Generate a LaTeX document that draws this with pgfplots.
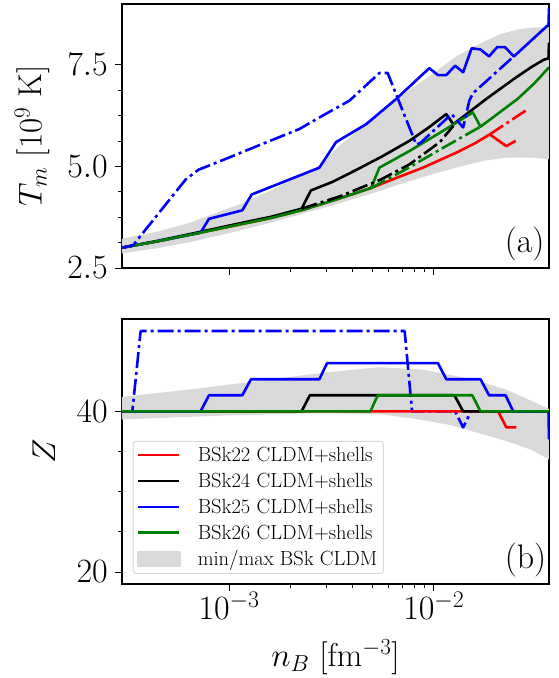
\RequirePackage{fix-cm}
\documentclass[border=0pt]{standalone}
\usepackage{pgfplots}
\pgfplotsset{compat=1.18}
\definecolor{bandgray}{RGB}{217,217,217}
\definecolor{mplgreen}{rgb}{0,0.5,0}
\tikzset{dd/.style={dash pattern=on 16pt off 4pt on 3pt off 4pt}}
\begin{document}
\begin{tikzpicture}
\path[use as bounding box] (0,0) rectangle (558pt,678pt);
% ---------------- top panel ----------------
\begin{axis}[scale only axis, width=427pt, xmode=log, xmin=3e-4, xmax=3.65e-2,
  xtick={1e-3,1e-2}, tick align=outside, tick pos=left,
  major tick length=7pt, minor tick length=4pt,
  every tick/.style={black, line width=0.9pt},
  axis line style={line width=1.1pt},
  ticklabel style={font=\fontsize{34}{40}\selectfont},
  every axis plot post/.append style={line width=2.6pt, line join=round},
  at={(122pt,410pt)}, anchor=south west, height=264pt,
  ymin=2.5, ymax=9.0, ytick={2.5,5,7.5}, minor y tick num=3,
  yticklabel style={inner sep=7pt, /pgf/number format/.cd, fixed, fixed zerofill, precision=1},
  xticklabels={},
  ylabel={$T_m$ [$10^9$ K]},
  every axis y label/.style={at={(axis description cs:-0.21,0.5)}, rotate=90, anchor=center,
    font=\fontsize{33}{40}\selectfont},
]
\addplot[fill=bandgray, draw=none] coordinates {
 (3.0e-4,3.22) (4.5e-4,3.40) (6.5e-4,3.62) (8.9e-4,3.88) (1.2e-3,4.12) (1.7e-3,4.47)
 (2.2e-3,4.80) (2.8e-3,5.02) (3.4e-3,5.48) (4.7e-3,6.05) (6.5e-3,6.65) (8.5e-3,7.05)
 (1.06e-2,7.40) (1.3e-2,7.72) (1.61e-2,7.98) (2.09e-2,8.25) (2.6e-2,8.38) (3.05e-2,8.42) (3.65e-2,8.43)
 (3.65e-2,5.18) (3.0e-2,5.22) (2.3e-2,5.22) (1.8e-2,5.15) (1.4e-2,5.02) (1.0e-2,4.82)
 (7e-3,4.58) (5e-3,4.34) (3.4e-3,4.08) (2.3e-3,3.84) (1.5e-3,3.58) (1e-3,3.36)
 (6.5e-4,3.14) (4.5e-4,2.99) (3.0e-4,2.86)} -- cycle;
% red
\addplot[red] coordinates {
 (3e-4,3.00) (4.5e-4,3.16) (7.4e-4,3.38) (1.2e-3,3.60) (1.6e-3,3.73) (2.29e-3,3.93)
 (3.4e-3,4.20) (4.94e-3,4.47) (6.5e-3,4.71) (8.84e-3,4.97) (1.3e-2,5.35) (1.6e-2,5.58)
 (1.875e-2,5.79) (2.26e-2,5.50) (2.51e-2,5.63)};
% black
\addplot[black] coordinates {
 (3e-4,3.00) (4.5e-4,3.17) (7.4e-4,3.40) (1.2e-3,3.63) (1.6e-3,3.76) (2.26e-3,3.96)
 (2.51e-3,4.41) (3.2e-3,4.62) (4.2e-3,4.92) (5.6e-3,5.25) (7.6e-3,5.63) (9.5e-3,5.97)
 (1.15e-2,6.29) (1.245e-2,6.04) (1.8e-2,6.66) (2.5e-2,7.18) (3.0e-2,7.45) (3.45e-2,7.63)
 (3.63e-2,7.66) (3.65e-2,8.05)};
% blue
\addplot[blue] coordinates {
 (3e-4,3.00) (4.5e-4,3.16) (7.26e-4,3.37) (7.98e-4,3.71) (1.16e-3,3.92) (1.29e-3,4.31)
 (2.76e-3,4.97) (3.33e-3,5.60) (4.67e-3,6.04) (6.54e-3,6.66) (9.5e-3,7.42) (1.047e-2,7.25)
 (1.15e-2,7.25) (1.27e-2,7.48) (1.39e-2,7.32) (1.53e-2,7.91) (1.69e-2,7.88) (1.86e-2,7.71)
 (2.04e-2,7.94) (2.22e-2,7.94) (2.46e-2,7.71) (3.63e-2,8.49) (3.65e-2,8.9)};
% green
\addplot[mplgreen] coordinates {
 (3e-4,3.00) (4.5e-4,3.16) (7.4e-4,3.38) (1.2e-3,3.60) (1.6e-3,3.73) (2.29e-3,3.93)
 (3.4e-3,4.20) (4.94e-3,4.47) (5.42e-3,4.97) (7.6e-3,5.38) (1.07e-2,5.83) (1.55e-2,6.33)
 (1.69e-2,5.98) (2.56e-2,6.66) (3.1e-2,7.05) (3.65e-2,7.44)};
% dash-dot
\addplot[red, dd] coordinates {(1.875e-2,5.79) (2.88e-2,6.41)};
\addplot[black, dd] coordinates {
 (2.26e-3,3.96) (3.5e-3,4.27) (5.52e-3,4.68) (7.6e-3,5.05) (1.07e-2,5.60) (1.245e-2,6.00)};
\addplot[blue, dd] coordinates {
 (3e-4,3.0) (3.4e-4,3.06) (6.14e-4,4.68) (7.1e-4,4.92) (1e-3,5.22) (1.25e-3,5.42) (2.2e-3,5.92)
 (2.86e-3,6.25) (3.87e-3,6.62) (5.42e-3,7.30) (5.95e-3,7.30) (8.2e-3,5.54) (8.6e-3,5.58)
 (1.22e-2,6.29) (1.39e-2,5.96) (1.49e-2,6.62) (1.55e-2,6.8) (2.48e-2,7.73)};
\addplot[mplgreen, dd] coordinates {
 (4.94e-3,4.47) (7.3e-3,4.93) (1.11e-2,5.46) (1.69e-2,5.98)};
\node[font=\fontsize{34}{40}\selectfont] at (rel axis cs:0.943,0.091) {(a)};
\end{axis}
% ---------------- bottom panel ----------------
\begin{axis}[scale only axis, width=427pt, xmode=log, xmin=3e-4, xmax=3.65e-2,
  xtick={1e-3,1e-2}, tick align=outside, tick pos=left,
  major tick length=7pt, minor tick length=4pt,
  every tick/.style={black, line width=0.9pt},
  axis line style={line width=1.1pt},
  ticklabel style={font=\fontsize{34}{40}\selectfont},
  every axis plot post/.append style={line width=2.6pt, line join=round},
  yticklabel style={inner sep=7pt},
  xticklabel style={inner sep=1pt},
  at={(122pt,94pt)}, anchor=south west, height=265pt,
  ymin=18.5, ymax=51.5, ytick={20,40}, minor y tick num=3,
  xlabel={$n_B$ [fm$^{-3}$]},
  every axis x label/.style={at={(axis description cs:0.5,-0.277)}, anchor=center,
    font=\fontsize{33}{40}\selectfont},
  ylabel={$Z$},
  every axis y label/.style={at={(axis description cs:-0.183,0.5)}, rotate=90, anchor=center,
    font=\fontsize{33}{40}\selectfont},
  legend style={at={(axis description cs:0.025,0.038)}, anchor=south west,
    font=\fontsize{20.5}{25}\selectfont, draw=black!15, line width=1pt, rounded corners=3pt,
    fill=white, fill opacity=0.8, text opacity=1, draw opacity=1,
    inner xsep=4pt, inner ysep=4pt, row sep=6pt, column sep=15pt, nodes={inner sep=2pt}},
  legend cell align=left,
  legend image code/.code={\draw[#1, line width=2.6pt, sharp corners] (0pt,0pt) -- (41pt,0pt);},
]
\addplot[fill=bandgray, draw=none, forget plot] coordinates {
 (3e-4,41.8) (6.37e-4,42.7) (1.35e-3,43.75) (2.86e-3,44.8) (5.42e-3,45.5) (8.83e-3,45.2)
 (1.55e-2,44.0) (2.26e-2,42.7) (3e-2,41.3) (3.65e-2,40.3)
 (3.65e-2,34.0) (3e-2,35.2) (2.26e-2,36.3) (1.5e-2,37.6) (1.2e-2,38.3) (8e-3,39.1)
 (5.6e-3,39.6) (3e-3,39.8) (1e-3,39.5) (3e-4,39.0)} -- cycle;
\addplot[blue, dd, forget plot] coordinates {(3e-4,40) (3.37e-4,40) (3.70e-4,50) (7.2e-3,50)
 (7.83e-3,40) (1.27e-2,40) (1.39e-2,38) (1.52e-2,40) (3.65e-2,40)};
\addplot[red] coordinates {(3e-4,40) (2.06e-2,40) (2.26e-2,38) (2.53e-2,38)};
\addlegendentry{BSk22 CLDM+shells}
\addplot[black] coordinates {(3e-4,40) (2.26e-3,40) (2.48e-3,42) (1.26e-2,42) (1.39e-2,40) (3.65e-2,40)};
\addlegendentry{BSk24 CLDM+shells}
\addplot[blue] coordinates {(3e-4,40) (7.26e-4,40) (7.98e-4,42) (1.16e-3,42) (1.28e-3,44)
 (2.76e-3,44) (3.01e-3,46) (1.047e-2,46) (1.15e-2,44) (1.69e-2,44) (1.86e-2,42) (2.24e-2,42)
 (2.44e-2,40) (3.63e-2,40) (3.65e-2,36.5)};
\addlegendentry{BSk25 CLDM+shells}
\addplot[mplgreen] coordinates {(3e-4,40) (4.9e-3,40) (5.32e-3,42) (1.54e-2,42) (1.69e-2,40) (3.65e-2,40)};
\addlegendentry{BSk26 CLDM+shells}
\addlegendimage{legend image code/.code={\fill[bandgray, fill opacity=1, sharp corners] (0pt,-7pt) rectangle (41pt,7pt);}}
\addlegendentry{min/max BSk CLDM}
\node[font=\fontsize{34}{40}\selectfont] at (rel axis cs:0.945,0.091) {(b)};
\end{axis}
\end{tikzpicture}
\end{document}
